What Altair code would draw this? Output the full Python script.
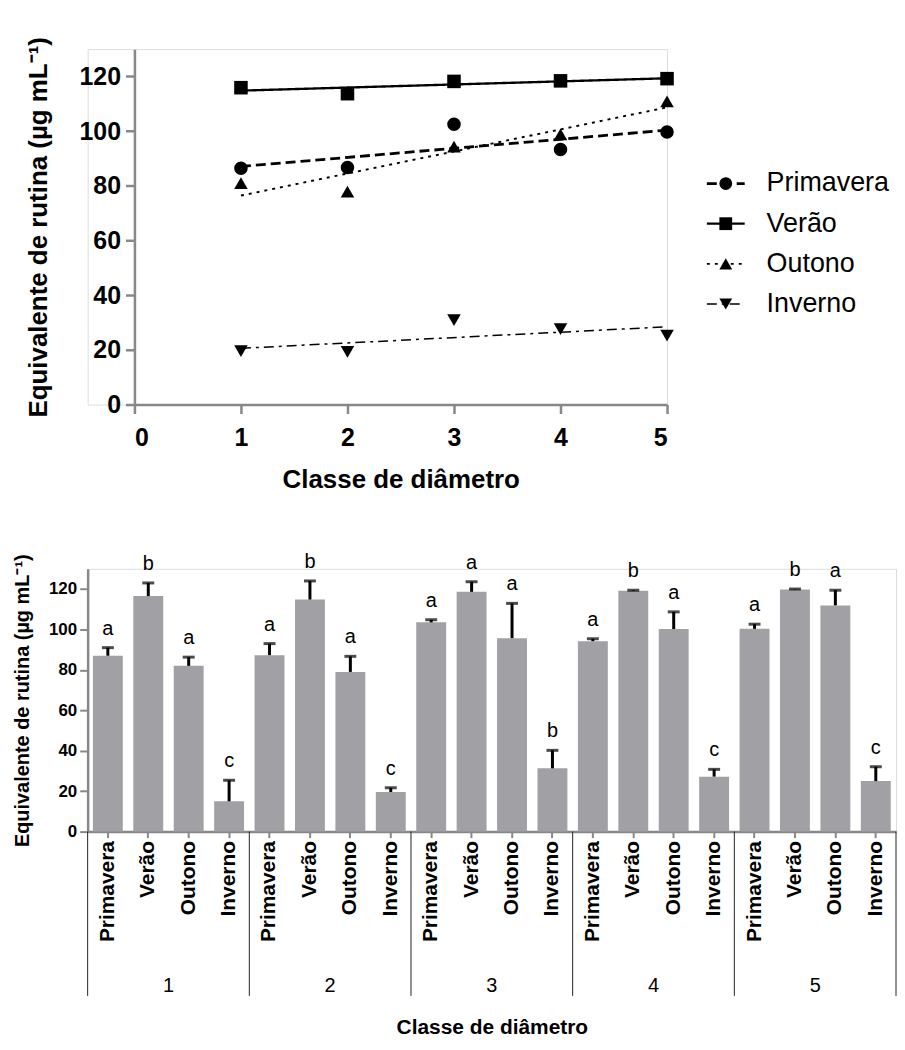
import altair as alt
import pandas as pd

FONT = "Liberation Sans"

seasons = ["Primavera", "Verão", "Outono", "Inverno"]
classes = [1, 2, 3, 4, 5]

line_primavera = [86.4, 86.7, 102.5, 93.3, 99.7]
line_verao = [115.9, 113.7, 118.2, 118.4, 119.2]
line_outono = [81.0, 77.9, 94.3, 98.8, 110.9]
line_inverno = [19.5, 19.3, 30.9, 27.6, 25.2]

# ---- bottom chart: bar means, upper error, significance letters
bar_primavera = [87.0, 87.3, 103.5, 94.2, 100.3]
bar_verao = [116.5, 114.8, 118.6, 119.1, 119.8]
bar_outono = [82.0, 79.0, 95.7, 100.2, 111.9]
bar_inverno = [15.0, 19.6, 31.3, 27.2, 25.0]
err_primavera = [4.0, 5.7, 1.3, 1.2, 2.3]
err_verao = [6.5, 9.2, 5.0, 0.3, 0.2]
err_outono = [4.3, 7.7, 17.2, 8.5, 7.5]
err_inverno = [10.4, 2.1, 8.9, 3.6, 7.1]
letters_primavera = ["a", "a", "a", "a", "a"]
letters_verao = ["b", "b", "a", "b", "b"]
letters_outono = ["a", "a", "a", "a", "a"]
letters_inverno = ["c", "c", "b", "c", "c"]

y_ticks = [0, 20, 40, 60, 80, 100, 120]
x_ticks = [0, 1, 2, 3, 4, 5]

shapes = ["circle", "square", "triangle-up", "triangle-down"]
dashes = [[10, 5], [1, 0], [3, 5], [10, 5, 3, 5]]
widths = [2.8, 1.5, 3.0, 3.0]

line_vals = [line_primavera, line_verao, line_outono, line_inverno]
df_line = pd.DataFrame(
    [{"estacao": s, "classe": c, "valor": v[i]}
     for s, v in zip(seasons, line_vals) for i, c in enumerate(classes)]
)
df_leg = pd.DataFrame({"estacao": seasons})

shape_enc = alt.Shape("estacao:N", scale=alt.Scale(domain=seasons, range=shapes), legend=None)
dash_enc = alt.StrokeDash("estacao:N", scale=alt.Scale(domain=seasons, range=dashes), legend=None)
width_enc = alt.StrokeWidth("estacao:N", scale=alt.Scale(domain=seasons, range=widths), legend=None)

W1, H1 = 535, 357
OFF = 47  # top plot sits further right than the bottom one
x_top = alt.X(
    "classe:Q",
    scale=alt.Scale(domain=[0, 5], nice=False, zero=False, range=[OFF, OFF + W1]),
    axis=alt.Axis(values=x_ticks, format="d", title="Classe de diâmetro",
                  labelFontSize=25, labelFontWeight="bold", titleFontSize=26,
                  titleFontWeight="bold", tickSize=9, tickWidth=2.5, domainWidth=2.5,
                  labelPadding=12, titlePadding=16, grid=False),
)
y_top = alt.Y(
    "valor:Q",
    scale=alt.Scale(domain=[0, 130], nice=False),
    axis=alt.Axis(values=y_ticks, title="Equivalente de rutina (µg mL⁻¹)",
                  labelFontSize=25, labelFontWeight="bold", titleFontSize=26,
                  titleFontWeight="bold", tickSize=9, tickWidth=2.5, domainWidth=2.5,
                  labelPadding=5, titlePadding=28, grid=False, offset=-OFF),
)

lines = alt.Chart(df_line).transform_regression(
    "classe", "valor", groupby=["estacao"]
).mark_line(color="black").encode(
    x=x_top, y=y_top, strokeDash=dash_enc, strokeWidth=width_enc, detail="estacao:N"
)
points = alt.Chart(df_line).mark_point(filled=True, size=185, opacity=1, color="black").encode(
    x="classe:Q", y="valor:Q", shape=shape_enc
)

leg_y = alt.Y("estacao:N", scale=alt.Scale(type="point", domain=seasons, range=[135, 256], padding=0), axis=None)
leg_rule = alt.Chart(df_leg).mark_rule(color="black").encode(
    x=alt.value(OFF + 575), x2=alt.value(OFF + 613), y=leg_y, strokeDash=dash_enc, strokeWidth=width_enc
)
leg_pt = alt.Chart(df_leg).mark_point(filled=True, size=165, opacity=1, color="black").encode(
    x=alt.value(OFF + 594), y=leg_y, shape=shape_enc
)
leg_txt = alt.Chart(df_leg).mark_text(align="left", baseline="middle", fontSize=27, font=FONT, color="black").encode(
    x=alt.value(OFF + 635), y=leg_y, text="estacao:N"
)

top = alt.layer(
    alt.layer(lines, points),
    alt.layer(leg_rule, leg_pt, leg_txt),
).resolve_scale(y="independent").properties(width=W1 + OFF, height=H1)

# ---- bottom chart
bar_vals = [bar_primavera, bar_verao, bar_outono, bar_inverno]
err_vals = [err_primavera, err_verao, err_outono, err_inverno]
let_vals = [letters_primavera, letters_verao, letters_outono, letters_inverno]
rows = []
for i, c in enumerate(classes):
    for s, bv, ev, lv in zip(seasons, bar_vals, err_vals, let_vals):
        rows.append({"cat": f"{c}-{s}", "classe": str(c), "estacao": s,
                     "media": bv[i], "erro": ev[i], "letra": lv[i]})
df_bar = pd.DataFrame(rows)
cat_order = list(df_bar["cat"])

W2, H2 = 812, 264
PI = 0.26
PO = PI / 2
half_gap = (W2 / len(cat_order)) * PI / 2

x_bot = alt.X(
    "cat:N", sort=cat_order,
    scale=alt.Scale(domain=cat_order, paddingInner=PI, paddingOuter=PO),
    axis=alt.Axis(labelExpr="split(datum.value, '-')[1]", labelAngle=270,
                  labelFontSize=21, labelFontWeight="bold", tickSize=6, tickWidth=2,
                  domainWidth=2.5, labelPadding=3, title="Classe de diâmetro",
                  titleFontSize=21, titleFontWeight="bold", titlePadding=75),
)
y_bot = alt.Y(
    "media:Q", scale=alt.Scale(domain=[0, 130], nice=False),
    axis=alt.Axis(values=y_ticks, title="Equivalente de rutina (µg mL⁻¹)",
                  labelFontSize=17, labelFontWeight="bold", tickSize=8, tickWidth=2,
                  domainWidth=2.5, labelPadding=3, titleFontSize=20,
                  titleFontWeight="bold", titlePadding=16, grid=False),
)

base = alt.Chart(df_bar).transform_calculate(topo="datum.media + datum.erro")
bars = base.mark_bar(color="#a1a1a5").encode(x=x_bot, y=y_bot)
err_rule = base.mark_rule(color="black", strokeWidth=3).encode(
    x=alt.X("cat:N", sort=cat_order), y="media:Q", y2="topo:Q"
)
err_cap = base.mark_tick(color="black", size=12, thickness=3).encode(
    x=alt.X("cat:N", sort=cat_order), y="topo:Q"
)
letters = base.mark_text(fontSize=20, font=FONT, color="black", baseline="alphabetic", dy=-13).encode(
    x=alt.X("cat:N", sort=cat_order), y="topo:Q", text="letra:N"
)

df_sep = df_bar[df_bar["estacao"] == "Primavera"]
sep_left = alt.Chart(df_sep).mark_rule(color="#222222", strokeWidth=1, xOffset=-half_gap).encode(
    x=alt.X("cat:N", sort=cat_order, bandPosition=0),
    y=alt.value(H2), y2=alt.value(H2 + 165),
)
df_last = df_bar[df_bar["cat"] == cat_order[-1]]
sep_right = alt.Chart(df_last).mark_rule(color="#222222", strokeWidth=1, xOffset=half_gap).encode(
    x=alt.X("cat:N", sort=cat_order, bandPosition=1),
    y=alt.value(H2), y2=alt.value(H2 + 165),
)
df_mid = df_bar[df_bar["estacao"] == "Outono"]
grp_txt = alt.Chart(df_mid).mark_text(fontSize=20, font=FONT, color="black", baseline="middle", xOffset=-half_gap).encode(
    x=alt.X("cat:N", sort=cat_order, bandPosition=0),
    y=alt.value(H2 + 155), text="classe:N",
)

bottom = alt.layer(bars, err_rule, err_cap, letters, sep_left, sep_right, grp_txt).properties(
    width=W2, height=H2
)

chart = alt.vconcat(top, bottom, spacing=58).properties(
    padding={"left": 4, "top": 25, "right": 0, "bottom": 0}
).configure_view(stroke=None).configure_axis(
    labelFont=FONT, titleFont=FONT, labelColor="black", titleColor="black",
    domainColor="black", tickColor="black"
).configure(background="white")

chart.save("out.html", embed_options={"renderer": "svg", "actions": False})
